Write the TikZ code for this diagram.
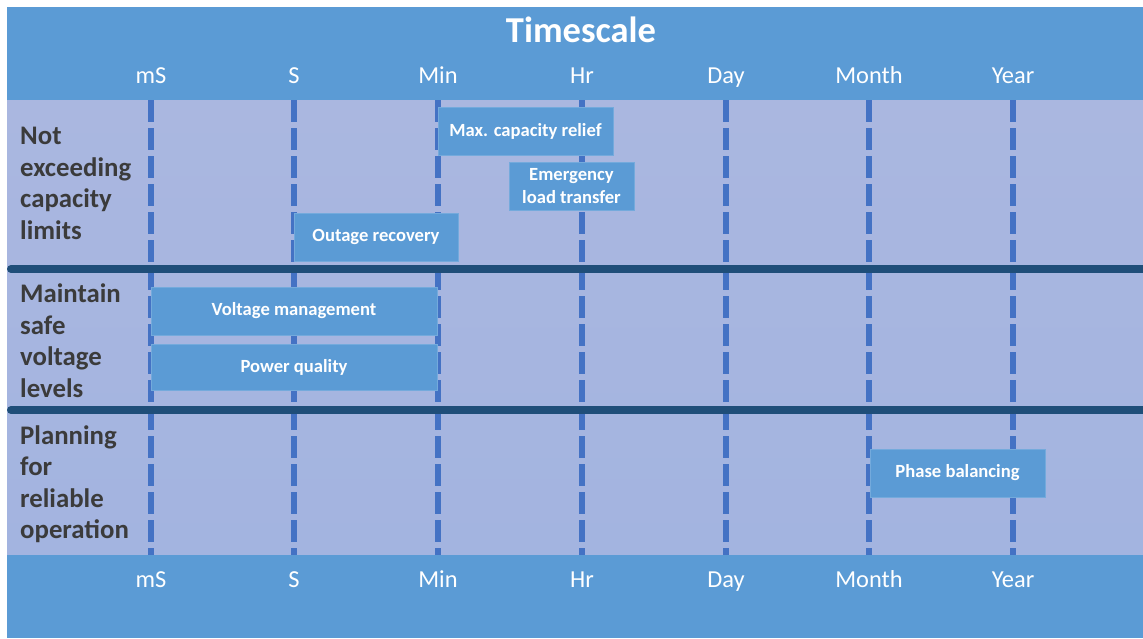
\documentclass[tikz,border=0pt]{standalone}
\usepackage{fontspec}
\setmainfont{Carlito}
\definecolor{band}{HTML}{5B9BD5}
\definecolor{bodyA}{HTML}{AAB7E0}
\definecolor{bodyB}{HTML}{9DADDB}
\definecolor{bodyC}{HTML}{A3B4E0}
\definecolor{dashc}{HTML}{4472C4}
\definecolor{sepc}{HTML}{1F4E79}
\definecolor{boxedge}{HTML}{74AADC}
\definecolor{labc}{HTML}{3B3B3B}
\tikzset{
  tick/.style={font=\fontsize{24.4}{28}\selectfont, text=white, anchor=base, inner sep=0pt},
  rowlab/.style={font=\bfseries\fontsize{26.8}{31.6}\selectfont, text=labc, anchor=north west, align=left, inner sep=0pt},
  act/.style={fill=band, draw=boxedge, line width=0.8pt, text=white, font=\bfseries\fontsize{18.6}{23}\selectfont, align=center, inner sep=0pt},
  vdash/.style={draw=dashc, line width=6.5pt, dash pattern=on 22pt off 6pt},
  sep/.style={draw=sepc, line width=8pt, line cap=round}
}
\begin{document}
\begin{tikzpicture}[x=1pt,y=-1pt]
\useasboundingbox (0,0) rectangle (1143,638);
\fill[white] (0,0) rectangle (1143,638);
% bands
\fill[band] (7,7) rectangle (1143,100);
\shade[top color=bodyA, middle color=bodyB, bottom color=bodyC] (7,100) rectangle (1143,555);
\fill[band] (7,555) rectangle (1143,638);
% title
\node[font=\bfseries\fontsize{36.5}{40}\selectfont, text=white, inner sep=0pt, anchor=base] (title) at (581,42) {Timescale};
% tick labels and dashed lines
\foreach \lab/\xx [count=\i] in {mS/151,S/294,Min/438,Hr/582,Day/726,Month/869,Year/1013}{
  \node[tick] (t\i) at (\xx,83) {\lab};
  \node[tick] (b\i) at (\xx,587) {\lab};
  \coordinate (vt\i) at (\xx,100);
  \coordinate (vb\i) at (\xx,555);
  \draw[vdash] (vt\i) -- (vb\i);
}
% separators
\coordinate (s1l) at (11,269); \coordinate (s1r) at (1148,269);
\coordinate (s2l) at (11,410); \coordinate (s2r) at (1148,410);
\draw[sep] (s1l) -- (s1r);
\draw[sep] (s2l) -- (s2r);
% row labels
\node[rowlab] (r1) at (20,127) {Not\\exceeding\\capacity\\limits};
\node[rowlab] (r2) at (20,283.5) {Maintain\\safe\\voltage\\levels};
\node[rowlab] (r3) at (20,425) {Planning\\for\\reliable\\operation};
% activity boxes
\node[act, minimum width=175pt, minimum height=48pt] (a1) at (525.5,131) {\raisebox{-1pt}{Max. capacity relief}};
\node[act, minimum width=125pt, minimum height=48pt] (a2) at (571.5,186.5) {Emergency\\load transfer};
\node[act, minimum width=164pt, minimum height=48pt] (a3) at (376,237) {\raisebox{-1.5pt}{Outage recovery}};
\node[act, minimum width=286pt, minimum height=48pt] (a4) at (294,311) {\raisebox{-1pt}{Voltage management}};
\node[act, minimum width=286pt, minimum height=46pt] (a5) at (294,367) {\raisebox{-1pt}{Power quality}};
\node[act, minimum width=175pt, minimum height=48pt] (a6) at (957.5,473) {\raisebox{-1pt}{Phase balancing}};
\end{tikzpicture}
\end{document}
